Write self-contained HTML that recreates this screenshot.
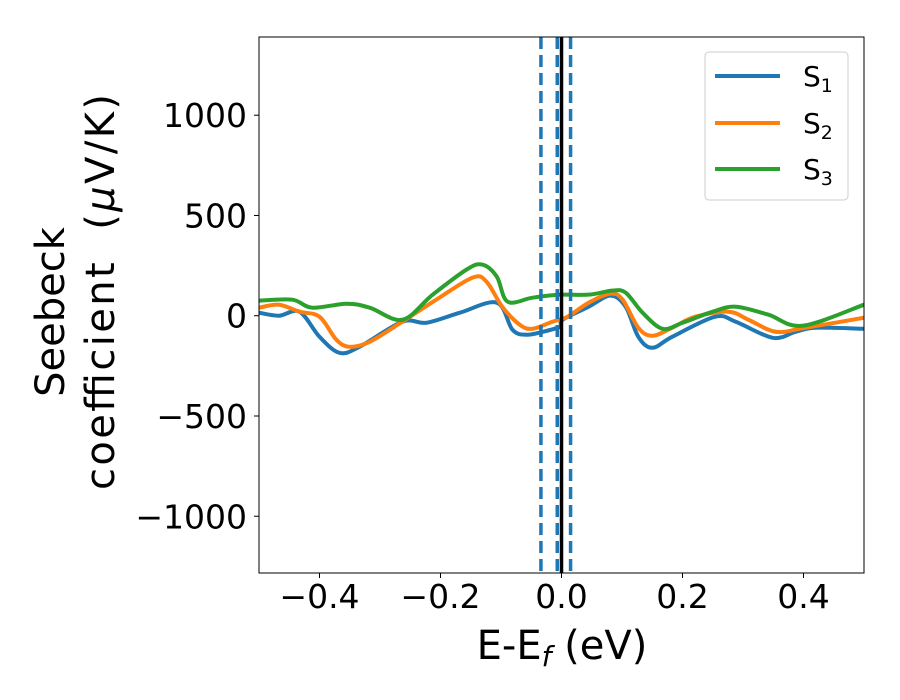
<!DOCTYPE html>
<html><head><meta charset="utf-8">
<style>
html,body{margin:0;padding:0;background:#fff;}
svg{display:block;font-family:"DejaVu Sans","Liberation Sans",sans-serif;}
</style></head>
<body>
<svg id="chart" width="900" height="700" viewBox="0 0 900 700" xmlns="http://www.w3.org/2000/svg">
<rect width="900" height="700" fill="#fff"/>
<defs><clipPath id="clip"><rect x="259" y="37" width="605" height="536"/></clipPath></defs>
<g id="ticks"></g>
<g id="series" clip-path="url(#clip)"></g>
<rect x="259" y="37" width="605" height="536" fill="none" stroke="#000" stroke-width="1"/>
<text x="562" y="659" font-size="40" text-anchor="middle">E-E<tspan font-style="italic" font-size="28" dy="7">f</tspan><tspan dy="-7"> (eV)</tspan></text>
<text transform="translate(64,312) rotate(-90)" font-size="40" text-anchor="middle">Seebeck</text>
<text transform="translate(114,292) rotate(-90)" font-size="40" text-anchor="middle" textLength="396">coefficient&#160; (<tspan font-style="italic">μ</tspan>V/K)</text>
<g>
<rect x="705" y="52" width="143" height="148" rx="4" fill="#fff" fill-opacity="0.8" stroke="#ccc"/>
<line x1="715" y1="76" x2="780" y2="76" stroke="#1f77b4" stroke-width="4"/>
<line x1="715" y1="123" x2="780" y2="123" stroke="#ff7f0e" stroke-width="4"/>
<line x1="715" y1="169" x2="780" y2="169" stroke="#2ca02c" stroke-width="4"/>
<text x="803" y="86" font-size="28">S<tspan font-size="19" dy="6">1</tspan></text>
<text x="803" y="133" font-size="28">S<tspan font-size="19" dy="6">2</tspan></text>
<text x="803" y="179" font-size="28">S<tspan font-size="19" dy="6">3</tspan></text>
</g>
</svg>
<script>
const xTicks=[-0.4,-0.2,0.0,0.2,0.4];
const xTickLabels=["−0.4","−0.2","0.0","0.2","0.4"];
const yTicks=[-1000,-500,0,500,1000];
const yTickLabels=["−1000","−500","0","500","1000"];
const s1X=[-0.5,-0.467,-0.433,-0.4,-0.367,-0.334,-0.263,-0.223,-0.168,-0.107,-0.081,-0.058,-0.031,-0.003,0.002,0.045,0.081,0.106,0.127,0.15,0.183,0.254,0.288,0.349,0.387,0.420,0.5];
const s1Y=[15,0,20,-105,-185,-155,-30,-35,15,65,-70,-95,-80,-55,-20,45,100,45,-105,-160,-105,-5,-30,-110,-80,-60,-65];
const s2X=[-0.5,-0.467,-0.433,-0.4,-0.372,-0.35,-0.317,-0.263,-0.207,-0.147,-0.124,-0.098,-0.069,-0.048,-0.015,0.01,0.045,0.081,0.101,0.127,0.15,0.183,0.221,0.276,0.309,0.354,0.403,0.5];
const s2Y=[40,55,20,-5,-120,-155,-130,-30,80,190,170,45,-45,-65,-30,-5,65,110,80,-60,-100,-60,-5,20,-20,-80,-60,-10];
const s3X=[-0.5,-0.445,-0.412,-0.355,-0.317,-0.263,-0.213,-0.157,-0.131,-0.107,-0.089,-0.048,-0.003,0.045,0.084,0.106,0.134,0.167,0.2,0.25,0.288,0.342,0.398,0.5];
const s3Y=[75,80,40,60,40,-20,105,230,255,195,70,90,105,105,125,115,15,-65,-35,20,45,5,-50,55];
const vDashed=[-0.034,-0.007,0.015];
const vSolid=[0.0];

const X0=259,X1=864,Y0=37,Y1=573,xmin=-0.5,xmax=0.5,ymin=-1283,ymax=1390;
const sx=v=>X0+(v-xmin)/(xmax-xmin)*(X1-X0);
const sy=v=>Y1-(v-ymin)/(ymax-ymin)*(Y1-Y0);
const NS="http://www.w3.org/2000/svg";
const ticks=document.getElementById('ticks');
const series=document.getElementById('series');
function mk(tag,attrs,parent){const e=document.createElementNS(NS,tag);for(const k in attrs)e.setAttribute(k,attrs[k]);parent.appendChild(e);return e;}
xTicks.forEach((t,i)=>{
  const l=mk('line',{x1:sx(t),x2:sx(t),y1:Y1,y2:Y1+5,stroke:'#000'},ticks);
  
  
  const tx=mk('text',{x:sx(t),y:Y1+35,'font-size':33,'text-anchor':'middle'},ticks);
  tx.textContent=xTickLabels[i];
  
  
});
yTicks.forEach((t,i)=>{
  const l=mk('line',{x1:X0-5,x2:X0,y1:sy(t),y2:sy(t),stroke:'#000'},ticks);
  
  
  const tx=mk('text',{x:X0-12,y:sy(t)+12,'font-size':33,'text-anchor':'end'},ticks);
  tx.textContent=yTickLabels[i];
  
  
});
function smooth(xs,ys){
  const p=xs.map((x,i)=>[sx(x),sy(ys[i])]);
  let d='M'+p[0][0]+','+p[0][1];
  for(let i=0;i<p.length-1;i++){
    const a=p[Math.max(0,i-1)],b=p[i],c=p[i+1],e=p[Math.min(p.length-1,i+2)];
    const c1=[b[0]+(c[0]-a[0])/6,b[1]+(c[1]-a[1])/6],c2=[c[0]-(e[0]-b[0])/6,c[1]-(e[1]-b[1])/6];
    d+=' C'+c1+' '+c2+' '+c;
  }
  return d;
}
const lines=[[s1X,s1Y,'#1f77b4','series-s1'],[s2X,s2Y,'#ff7f0e','series-s2'],[s3X,s3Y,'#2ca02c','series-s3']];
lines.forEach(([xs,ys,col,name])=>{
  const p=mk('path',{d:smooth(xs,ys),fill:'none',stroke:col,'stroke-width':4,'stroke-linejoin':'round'},series);
  
  
});
vDashed.forEach(v=>{
  const l=mk('line',{x1:sx(v),x2:sx(v),y1:Y0,y2:Y1,stroke:'#1f77b4','stroke-width':3.5,'stroke-dasharray':'12,6'},series);
  
  
});
vSolid.forEach(v=>{
  const l=mk('line',{x1:sx(v),x2:sx(v),y1:Y0,y2:Y1,stroke:'#000','stroke-width':3.5},series);
  
  
});
</script>
</body></html>
